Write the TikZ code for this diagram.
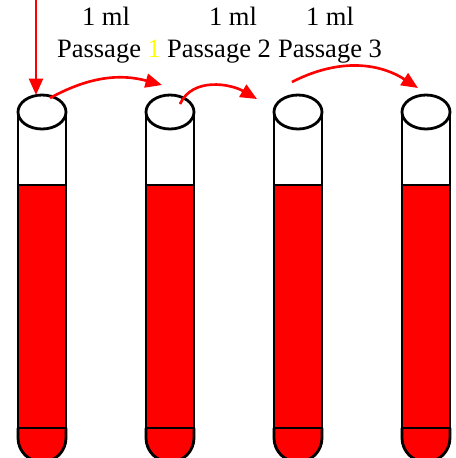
\documentclass[tikz,border=0pt]{standalone}
\usepackage{fontspec}
\setmainfont{Liberation Serif}
\usetikzlibrary{arrows.meta,positioning}
\definecolor{blood}{RGB}{255,0,0}
\definecolor{mark}{RGB}{255,255,0}

\begin{document}
\begin{tikzpicture}[
    x=0.02cm, y=-0.02cm,
    tube/.style={draw=black, line width=1.6pt},
    transfer/.style={draw=blood, line width=1.5pt, -{Triangle[length=0.33cm,width=0.28cm]}},
    lbl/.style={font=\fontsize{15.1}{18}\selectfont, inner sep=0pt, anchor=base}
]
\useasboundingbox (0,0) rectangle (456,458);
% four tubes, 128 apart
\foreach \cx [count=\i] in {42,170,298,426} {
    \fill[blood] (\cx-24,185) rectangle (\cx+24,428);
    \filldraw[tube, fill=blood] (\cx-24,428) -- (\cx-24,438) arc[start angle=180, end angle=360, radius=0.48cm] -- (\cx+24,428);
    \draw[tube] (\cx-24,112) -- (\cx-24,438) (\cx+24,112) -- (\cx+24,438);
    \draw[tube] (\cx-24,185) -- (\cx+24,185) (\cx-24,428) -- (\cx+24,428);
    \filldraw[tube, fill=white] (\cx,112) ellipse [x radius=0.48cm, y radius=0.34cm];
}
% labels
\node[lbl] (ml1) at (106,25) {1 ml};
\node[lbl] (ml2) at (233,25) {1 ml};
\node[lbl] (ml3) at (330,25) {1 ml};
\node[lbl] (p1) at (109,57) {Passage \textcolor{mark}{1}};
\node[lbl] (p2) at (219,57) {Passage 2};
\node[lbl] (p3) at (330,57) {Passage 3};
% transfer points
\coordinate (in) at (36,0);
\coordinate (t1) at (36,95);
\coordinate (o1) at (50,98);
\coordinate (i2) at (162,85);
\coordinate (o2) at (180,104);
\coordinate (i3) at (257,99);
\coordinate (o3) at (292,82);
\coordinate (i4) at (418,88);
\draw[transfer] (in) -- (t1);
\draw[transfer] (o1) to[bend left=22] (i2);
\draw[transfer] (o2) to[out=65, in=150] (i3);
\draw[transfer] (o3) to[bend left=30] (i4);
\end{tikzpicture}
\end{document}
